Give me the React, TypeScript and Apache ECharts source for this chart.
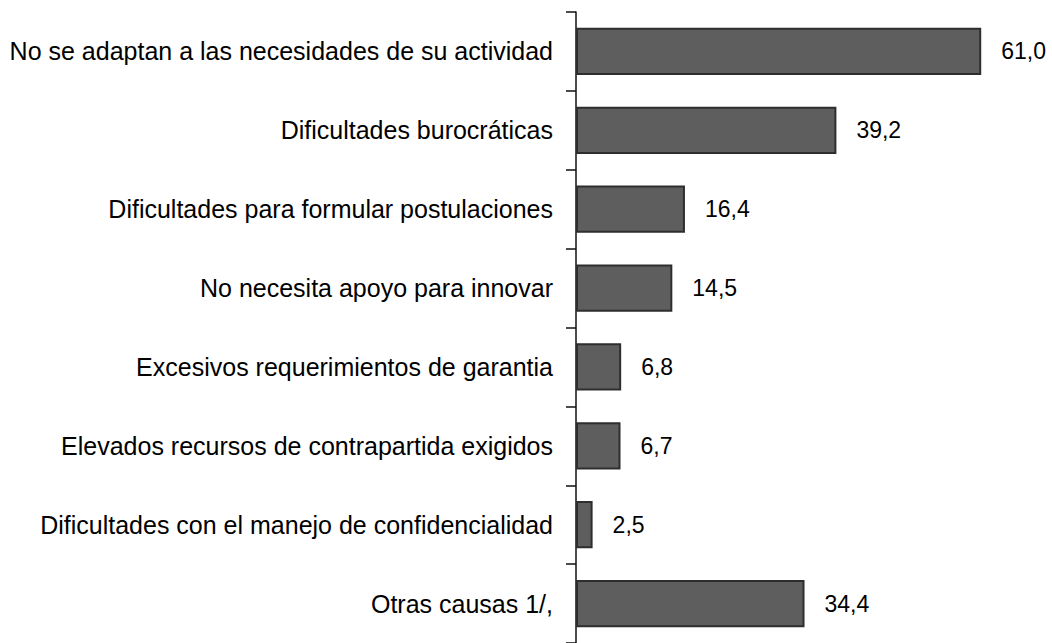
import React, { useEffect, useRef } from "react";
import * as echarts from "echarts";

const categories = [
  "No se adaptan a las necesidades de su actividad",
  "Dificultades burocráticas",
  "Dificultades para formular postulaciones",
  "No necesita apoyo para innovar",
  "Excesivos requerimientos de garantia",
  "Elevados recursos de contrapartida exigidos",
  "Dificultades con el manejo de confidencialidad",
  "Otras causas 1/,",
];
const values = [61.0, 39.2, 16.4, 14.5, 6.8, 6.7, 2.5, 34.4];

const FONT = "'Liberation Sans', Arial, sans-serif";

export default function App() {
  const ref = useRef<HTMLDivElement>(null);
  useEffect(() => {
    if (!ref.current) return;
    const chart = echarts.init(ref.current, undefined, { renderer: "svg" });
    chart.setOption({
      animation: false,
      backgroundColor: "#ffffff",
      grid: { left: 576, right: 11, top: 12, bottom: -7, containLabel: false },
      xAxis: { type: "value", min: 0, max: 70, show: false },
      yAxis: {
        type: "category",
        data: categories,
        inverse: true,
        axisLine: { show: true, lineStyle: { color: "#111", width: 1.5 } },
        axisTick: { show: true, length: 10, lineStyle: { color: "#111", width: 1.5 } },
        axisLabel: { margin: 23, color: "#000", fontSize: 25, fontFamily: FONT },
        splitLine: { show: false },
      },
      series: [
        {
          type: "bar",
          data: values,
          barCategoryGap: "40%",
          itemStyle: { color: "#5e5e5e", borderColor: "#2e2e2e", borderWidth: 2 },
          label: {
            show: true,
            position: "right",
            distance: 20,
            color: "#000",
            fontSize: 23,
            fontFamily: FONT,
            formatter: (p: any) => Number(p.value).toFixed(1).replace(".", ","),
          },
        },
      ],
    });
    return () => chart.dispose();
  }, []);
  return (
    <div
      ref={ref}
      style={{ position: "fixed", left: 0, top: 0, width: 1052, height: 643 }}
    />
  );
}
